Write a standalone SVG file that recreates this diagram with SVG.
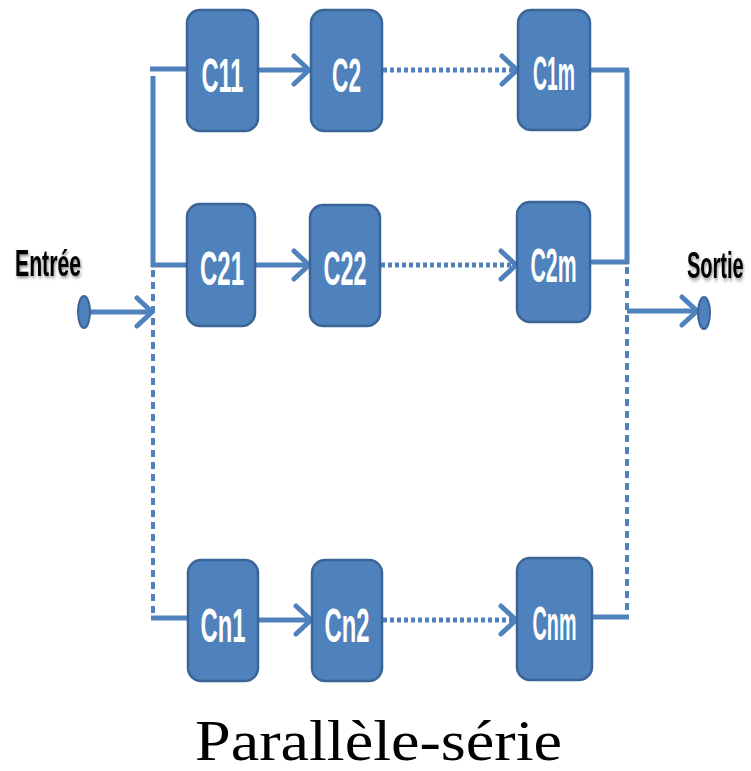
<svg xmlns="http://www.w3.org/2000/svg" width="751" height="771" viewBox="0 0 751 771">
<style>
.box{fill:#4F81BD;stroke:#3A6596;stroke-width:2.5}
.lbl{font-family:"Liberation Sans",Arial,sans-serif;font-weight:bold;font-size:48px;fill:#ffffff;text-anchor:middle}
.ln{stroke:#4F81BD;stroke-width:5;fill:none}
.dot{stroke:#4F81BD;stroke-width:5;fill:none;stroke-dasharray:4 3}
.vdot{stroke:#4F81BD;stroke-width:4;fill:none;stroke-dasharray:7 5}
.io{font-family:"Liberation Sans",Arial,sans-serif;font-weight:bold;font-size:36px;fill:#000000}
.term{fill:#4F81BD;stroke:#3A6596;stroke-width:2}
</style>
<defs>
<marker id="chev" markerUnits="userSpaceOnUse" viewBox="0 0 22 34" markerWidth="22" markerHeight="34" refX="19" refY="17" orient="auto">
<path d="M4,3 L19,17 L4,31" fill="none" stroke="#4F81BD" stroke-width="5" stroke-linecap="round" stroke-linejoin="round"/>
</marker>
<filter id="sh" x="-5%" y="-20%" width="112%" height="160%">
<feDropShadow dx="1" dy="2" stdDeviation="1.5" flood-color="#000" flood-opacity="0.45"/>
</filter>
<filter id="sh2" x="-5%" y="-20%" width="112%" height="160%">
<feDropShadow dx="1" dy="1.2" stdDeviation="1.2" flood-color="#000" flood-opacity="0.45"/>
</filter>
</defs>
<g id="connectors">
<line class="ln" x1="150" y1="69" x2="188" y2="69"/>
<line class="ln" x1="153" y1="76" x2="153" y2="267"/>
<line class="ln" x1="151" y1="265" x2="188" y2="265"/>
<line class="vdot" x1="153" y1="270" x2="153" y2="618"/>
<line class="ln" x1="151" y1="618" x2="189" y2="618"/>
<line class="ln" x1="589" y1="70" x2="629" y2="70"/>
<line class="ln" x1="627" y1="70" x2="627" y2="264"/>
<line class="ln" x1="589" y1="262" x2="629" y2="262"/>
<line class="vdot" x1="627" y1="267" x2="627" y2="617"/>
<line class="ln" x1="591" y1="617" x2="629" y2="617"/>
<line class="ln" x1="258" y1="70" x2="309" y2="70" marker-end="url(#chev)"/>
<line class="dot" x1="383" y1="70" x2="517" y2="70" marker-end="url(#chev)"/>
<line class="ln" x1="256" y1="265" x2="309" y2="265" marker-end="url(#chev)"/>
<line class="dot" x1="381" y1="265" x2="516" y2="265" marker-end="url(#chev)"/>
<line class="ln" x1="259" y1="620" x2="311" y2="620" marker-end="url(#chev)"/>
<line class="dot" x1="383" y1="620" x2="516" y2="620" marker-end="url(#chev)"/>
<line class="ln" x1="90" y1="312" x2="152" y2="312" marker-end="url(#chev)"/>
<line class="ln" x1="627" y1="311" x2="697" y2="311" marker-end="url(#chev)"/>
</g>
<g id="entree">
<ellipse class="term" cx="84" cy="312" rx="6" ry="16"/>
<text class="io" x="15" y="276" textLength="66" lengthAdjust="spacingAndGlyphs" filter="url(#sh)">Entrée</text>
</g>
<g id="sortie">
<ellipse class="term" cx="704" cy="313" rx="6" ry="16"/>
<text class="io" style="font-size:20px" transform="translate(687,278) scale(1,1.8)" x="0" y="0" filter="url(#sh2)">Sortie</text>
</g>
<g id="C11"><rect class="box" x="187" y="10" width="71" height="121" rx="13"/><text class="lbl" x="222.5" y="92" textLength="42" lengthAdjust="spacingAndGlyphs">C11</text></g>
<g id="C2"><rect class="box" x="311" y="10" width="71" height="121" rx="13"/><text class="lbl" x="346.5" y="92" textLength="29" lengthAdjust="spacingAndGlyphs">C2</text></g>
<g id="C1m"><rect class="box" x="518" y="10" width="72" height="120" rx="13"/><text class="lbl" x="554" y="90" textLength="42" lengthAdjust="spacingAndGlyphs">C1m</text></g>
<g id="C21"><rect class="box" x="187" y="204" width="68" height="122" rx="13"/><text class="lbl" x="222" y="285" textLength="44" lengthAdjust="spacingAndGlyphs">C21</text></g>
<g id="C22"><rect class="box" x="310" y="205" width="70" height="121" rx="13"/><text class="lbl" x="345" y="285" textLength="43" lengthAdjust="spacingAndGlyphs">C22</text></g>
<g id="C2m"><rect class="box" x="517" y="202" width="73" height="120" rx="13"/><text class="lbl" x="553.5" y="282" textLength="46" lengthAdjust="spacingAndGlyphs">C2m</text></g>
<g id="Cn1"><rect class="box" x="188" y="560" width="70" height="121" rx="13"/><text class="lbl" x="223" y="642" textLength="45" lengthAdjust="spacingAndGlyphs">Cn1</text></g>
<g id="Cn2"><rect class="box" x="312" y="560" width="70" height="121" rx="13"/><text class="lbl" x="347" y="642" textLength="45" lengthAdjust="spacingAndGlyphs">Cn2</text></g>
<g id="Cnm"><rect class="box" x="517" y="558" width="75" height="122" rx="13"/><text class="lbl" x="554.5" y="640" textLength="44" lengthAdjust="spacingAndGlyphs">Cnm</text></g>
<text x="195" y="760" font-family="'Liberation Serif','Times New Roman',serif" font-size="57" fill="#000" textLength="367" lengthAdjust="spacingAndGlyphs">Parallèle-série</text>
</svg>
